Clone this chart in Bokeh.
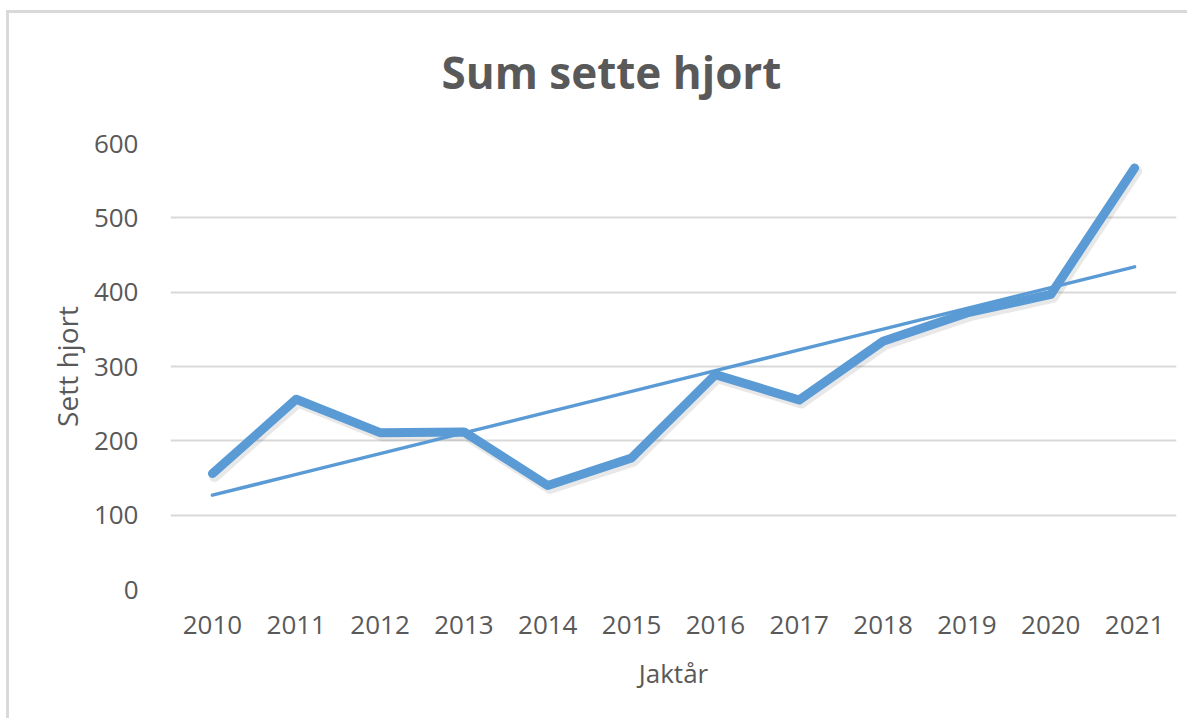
import numpy as np
from bokeh.plotting import figure
from bokeh.models import ColumnDataSource
from bokeh.transform import dodge
from bokeh.embed import file_html
from bokeh.resources import INLINE

# ---- data ----
years = ["2010", "2011", "2012", "2013", "2014", "2015", "2016", "2017", "2018", "2019", "2020", "2021"]
sett_hjort = [156, 256, 211, 212, 140, 177, 289, 255, 334, 372, 397, 567]
y_ticks = [0, 100, 200, 300, 400, 500, 600]

# linear trendline (least squares) as Excel computes it
idx = np.arange(len(years))
slope, intercept = np.polyfit(idx, sett_hjort, 1)
trend = list(intercept + slope * idx)

TEXT = "#595959"
BLUE = "#5b9bd5"
GRID = "#d9d9d9"
FONT = "Open Sans"

p = figure(
    x_range=years, y_range=(0, 600),
    width=1181, height=718,
    output_backend="svg", toolbar_location=None,
    min_border_left=164, min_border_right=11,
    min_border_top=143, min_border_bottom=129,
)
# chart-area border (left and top edges, as in the reference)
p.styles = {
    "margin-left": "6px",
    "margin-top": "0px",
    "background": ("linear-gradient(#d9d9d9,#d9d9d9) no-repeat 0px 10px / 3px 100%, "
                   "linear-gradient(#d9d9d9,#d9d9d9) no-repeat 0px 10px / 100% 3px, white"),
}
p.outline_line_color = None
p.background_fill_color = "white"
p.border_fill_color = None

src = ColumnDataSource(dict(x=years, y=sett_hjort, t=trend))

# shadow of the main line
p.line(x=dodge("x", 0.025, range=p.x_range), y=dodge("y", -4), source=src,
       line_color="#000000", line_alpha=0.09, line_width=11,
       line_join="round", line_cap="round")
p.line(x="x", y="y", source=src, line_color=BLUE, line_width=9,
       line_join="round", line_cap="round")
p.line(x="x", y="t", source=src, line_color=BLUE, line_width=3.5, line_cap="round")

# grid
p.xgrid.grid_line_color = None
p.ygrid.grid_line_color = GRID
p.ygrid.grid_line_width = 2
p.yaxis.ticker = y_ticks

for ax in (p.xaxis, p.yaxis):
    ax.axis_line_color = None
    ax.major_tick_line_color = None
    ax.minor_tick_line_color = None
    ax.major_label_text_font = FONT
    ax.major_label_text_font_size = "26px"
    ax.major_label_text_color = TEXT
    ax.axis_label_text_font = FONT
    ax.axis_label_text_font_size = "26px"
    ax.axis_label_text_color = TEXT
    ax.axis_label_text_font_style = "normal"

p.xaxis.axis_label = "Jaktår"
p.yaxis.axis_label = "Sett hjort"
p.yaxis.axis_label_text_font_size = "28px"
p.xaxis.major_label_standoff = 20
p.yaxis.major_label_standoff = 26
p.xaxis.axis_label_standoff = 18
p.yaxis.axis_label_standoff = 5

p.title.text = "Sum sette hjort"
p.title.align = "left"
p.title.offset = 271
p.title.text_font = FONT
p.title.text_font_size = "44px"
p.title.text_font_style = "bold"
p.title.text_color = TEXT
p.title.vertical_align = "top"
p.title.standoff = 80

open("out.html", "w").write(file_html(p, INLINE))
